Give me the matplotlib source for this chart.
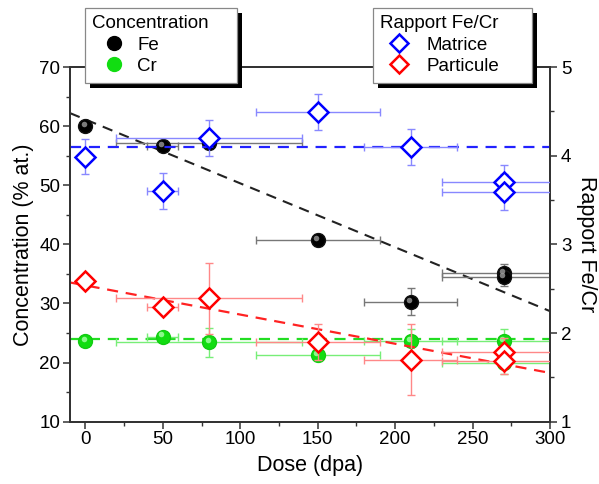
import matplotlib
matplotlib.use('Agg')
import matplotlib.pyplot as plt
from matplotlib.transforms import offset_copy
from matplotlib.lines import Line2D
from matplotlib.patches import Rectangle
from matplotlib.ticker import MultipleLocator

plt.rcParams['font.family'] = ['Liberation Sans', 'DejaVu Sans']

# ---------------- data ----------------
fe_dose = [0, 50, 80, 150, 210, 270, 270]
fe_conc = [60.0, 56.7, 57.2, 40.8, 30.3, 35.1, 34.5]
fe_xerr = [0, 10, 60, 40, 30, 40, 40]
fe_yerr = [0.6, 0.6, 1.0, 1.0, 2.3, 1.5, 1.5]

cr_dose = [0, 50, 80, 150, 210, 270, 270]
cr_conc = [23.6, 24.4, 23.4, 21.3, 23.6, 23.6, 20.0]
cr_xerr = [0, 10, 60, 40, 30, 40, 40]
cr_yerr = [0.5, 0.5, 2.5, 1.0, 2.0, 2.0, 2.0]

mat_dose = [0, 50, 80, 150, 210, 270, 270]
mat_ratio = [3.99, 3.60, 4.20, 4.49, 4.10, 3.70, 3.59]
mat_xerr = [0, 10, 60, 40, 30, 40, 40]
mat_yerr = [0.2, 0.2, 0.2, 0.2, 0.2, 0.2, 0.2]

par_dose = [0, 50, 80, 150, 210, 270, 270]
par_ratio = [2.59, 2.29, 2.39, 1.90, 1.70, 1.79, 1.69]
par_xerr = [0, 10, 60, 40, 30, 40, 40]
par_yerr = [0.05, 0.05, 0.4, 0.2, 0.4, 0.15, 0.15]

# trend lines (end points)
trend_x = [-10, 300]
fe_trend = [62.2, 28.7]
cr_trend = [24.0, 24.0]
mat_trend = [4.10, 4.10]
par_trend = [2.57, 1.55]

x_ticks = [0, 50, 100, 150, 200, 250, 300]
conc_ticks = [10, 20, 30, 40, 50, 60, 70]
ratio_ticks = [1, 2, 3, 4, 5]

FS = 13.5
LFS = 15.5
fig = plt.figure(figsize=(5.99, 4.84), dpi=100)
ax = fig.add_axes([70/599, 1-421.7/484, (550-70)/599, (421.7-67)/484])
ax2 = ax.twinx()

spine_c = '#333333'

# ---------------- left axis: concentrations ----------------
ax.plot(trend_x, fe_trend, ls=(0, (5, 3.5)), color='#222222', lw=1.5, zorder=2)
ax.plot(trend_x, cr_trend, ls=(0, (5, 3.5)), color='#22dd22', lw=1.6, zorder=2)

ax.errorbar(fe_dose, fe_conc, xerr=fe_xerr, yerr=fe_yerr, fmt='none',
            ecolor='#777777', elinewidth=1.0, capsize=3, capthick=1.0, zorder=3)
ax.errorbar(cr_dose, cr_conc, xerr=cr_xerr, yerr=cr_yerr, fmt='none',
            ecolor='#77ee77', elinewidth=1.0, capsize=3, capthick=1.0, zorder=3)

ax.plot(fe_dose, fe_conc, 'o', ms=10, color='black', mec='#111111', zorder=4)
hl = offset_copy(ax.transData, fig=fig, x=-1.2, y=1.5, units='points')
ax.plot(fe_dose, fe_conc, 'o', ms=4, color='#9a9a9a', mew=0, alpha=0.8, transform=hl, zorder=5)
ax.plot(cr_dose, cr_conc, 'o', ms=10, color='#11dd11', mec='#11cc11', zorder=4)
ax.plot(cr_dose, cr_conc, 'o', ms=4, color='#aaffaa', mew=0, alpha=0.8, transform=hl, zorder=5)

ax.set_xlim(-10, 300)
ax.set_ylim(10, 70)
ax.set_xticks(x_ticks)
ax.set_yticks(conc_ticks)
ax.xaxis.set_minor_locator(MultipleLocator(25))
ax.yaxis.set_minor_locator(MultipleLocator(5))
ax.tick_params(axis='both', which='major', direction='out', length=5, width=1.1,
               color=spine_c, labelsize=FS, pad=2)
ax.tick_params(axis='both', which='minor', direction='out', length=3, width=1.0, color=spine_c)
ax.set_xlabel('Dose (dpa)', fontsize=LFS, labelpad=5)
ax.set_ylabel('Concentration (% at.)', fontsize=LFS, labelpad=4)
for s in ax.spines.values():
    s.set_color(spine_c)
    s.set_linewidth(1.3)

# ---------------- right axis: Fe/Cr ratio ----------------
ax2.plot(trend_x, mat_trend, ls=(0, (5, 3.5)), color='#2222ff', lw=1.6, zorder=2)
ax2.plot(trend_x, par_trend, ls=(0, (5, 3.5)), color='#ff2222', lw=1.6, zorder=2)

ax2.errorbar(mat_dose, mat_ratio, xerr=mat_xerr, yerr=mat_yerr, fmt='none',
             ecolor='#8888ff', elinewidth=1.0, capsize=3, capthick=1.0, zorder=3)
ax2.errorbar(par_dose, par_ratio, xerr=par_xerr, yerr=par_yerr, fmt='none',
             ecolor='#ff8888', elinewidth=1.0, capsize=3, capthick=1.0, zorder=3)
ax2.plot(mat_dose, mat_ratio, 'D', ms=10, mfc='white', mec='#0000ff', mew=1.8, zorder=4)
ax2.plot(par_dose, par_ratio, 'D', ms=10, mfc='white', mec='#ff0000', mew=1.8, zorder=4)

ax2.set_ylim(1, 5)
ax2.set_yticks(ratio_ticks)
ax2.yaxis.set_minor_locator(MultipleLocator(0.5))
ax2.tick_params(axis='y', which='major', direction='out', length=5, width=1.1,
                color=spine_c, labelsize=FS, pad=3)
ax2.tick_params(axis='y', which='minor', direction='out', length=3, width=1.0, color=spine_c)
ax2.set_ylabel('Rapport Fe/Cr', fontsize=LFS, rotation=270, labelpad=18)
for s in ax2.spines.values():
    s.set_color(spine_c)
    s.set_linewidth(1.3)

# ---------------- legends ----------------
h_fe = Line2D([], [], ls='none', marker='o', ms=10, color='black')
h_cr = Line2D([], [], ls='none', marker='o', ms=10, color='#11dd11')
h_mat = Line2D([], [], ls='none', marker='D', ms=9, mfc='white', mec='#0000ff', mew=1.8)
h_par = Line2D([], [], ls='none', marker='D', ms=9, mfc='white', mec='#ff0000', mew=1.8)

common = dict(loc='upper left', fontsize=FS, title_fontsize=FS, frameon=True,
              fancybox=False, borderpad=0.4, labelspacing=0.22, borderaxespad=0,
              alignment='left', mode='expand')
W, H = 599, 484
leg1 = fig.legend([h_fe, h_cr], ['Fe', 'Cr'], title='Concentration',
                  bbox_to_anchor=(85/W, 1-80/H, 152/W, 72/H), handlelength=2.3,
                  handletextpad=0.1, **common)
leg2 = fig.legend([h_mat, h_par], ['Matrice', 'Particule'], title='Rapport Fe/Cr',
                  bbox_to_anchor=(373/W, 1-82/H, 159/W, 74/H), handlelength=2.0,
                  handletextpad=0.45, **common)
for lg in (leg1, leg2):
    fr = lg.get_frame()
    fr.set_edgecolor('#888888')
    fr.set_linewidth(0.9)
    fr.set_facecolor('white')
    fr.set_alpha(1)
    lg.set_zorder(6)

fig.canvas.draw()
for lg in (leg1, leg2):
    bb = lg.get_window_extent()
    sh = Rectangle((bb.x0 + 5, bb.y0 - 5), bb.width, bb.height, transform=None,
                   facecolor='black', edgecolor='none', zorder=5)
    fig.add_artist(sh)

fig.savefig('out.png', dpi=100)
